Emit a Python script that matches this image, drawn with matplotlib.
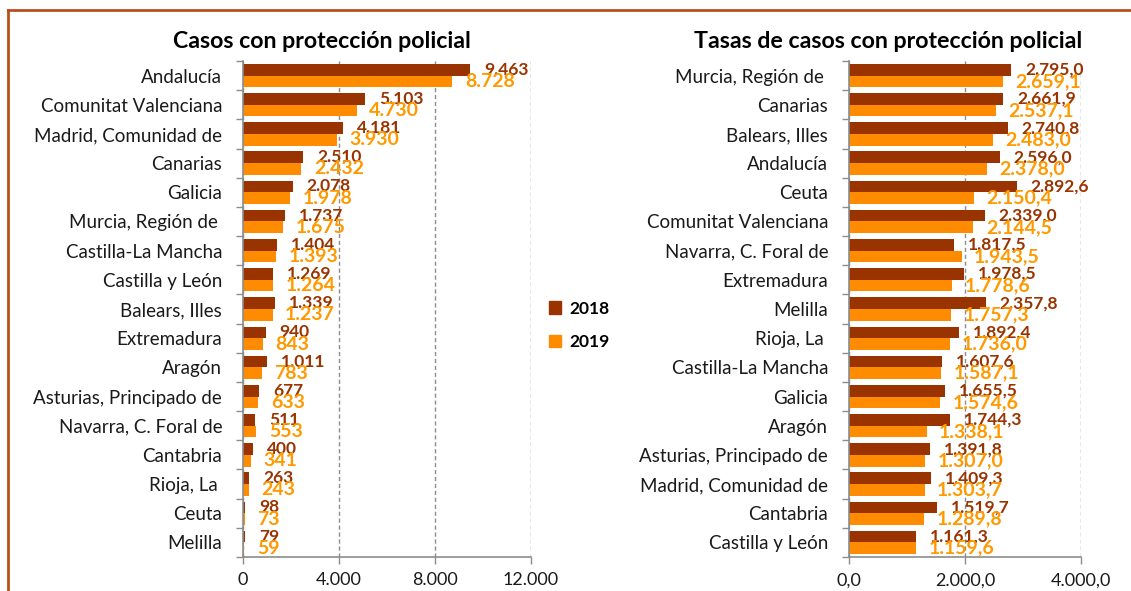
import numpy as np
import matplotlib
matplotlib.use("Agg")
import matplotlib.pyplot as plt
from matplotlib.patches import Patch
from matplotlib.lines import Line2D

plt.rcParams['font.family'] = ['Lato', 'DejaVu Sans']

# --- data: casos con proteccion policial ---
casos_regiones = ["Andalucía", "Comunitat Valenciana", "Madrid, Comunidad de",
                  "Canarias", "Galicia", "Murcia, Región de ", "Castilla-La Mancha",
                  "Castilla y León", "Balears, Illes", "Extremadura", "Aragón",
                  "Asturias, Principado de", "Navarra, C. Foral de", "Cantabria",
                  "Rioja, La ", "Ceuta", "Melilla"]
casos_2018 = [9463, 5103, 4181, 2510, 2078, 1737, 1404, 1269, 1339, 940,
              1011, 677, 511, 400, 263, 98, 79]
casos_2019 = [8728, 4730, 3930, 2432, 1978, 1675, 1393, 1264, 1237, 843,
              783, 633, 553, 341, 243, 73, 59]
casos_ticks = [0, 4000, 8000, 12000]

# --- data: tasas de casos con proteccion policial ---
tasas_regiones = ["Murcia, Región de ", "Canarias", "Balears, Illes", "Andalucía",
                  "Ceuta", "Comunitat Valenciana", "Navarra, C. Foral de",
                  "Extremadura", "Melilla", "Rioja, La ", "Castilla-La Mancha",
                  "Galicia", "Aragón", "Asturias, Principado de",
                  "Madrid, Comunidad de", "Cantabria", "Castilla y León"]
tasas_2018 = [2795.0, 2661.9, 2740.8, 2596.0, 2892.6, 2339.0, 1817.5, 1978.5,
              2357.8, 1892.4, 1607.6, 1655.5, 1744.3, 1391.8, 1409.3, 1519.7, 1161.3]
tasas_2019 = [2659.1, 2537.1, 2483.0, 2378.0, 2150.4, 2144.5, 1943.5, 1778.6,
              1757.3, 1736.0, 1587.1, 1574.6, 1338.1, 1307.0, 1303.7, 1289.8, 1159.6]
tasas_ticks = [0, 2000, 4000]

years = ["2018", "2019"]
c18 = "#993300"
c19 = "#FF8C00"
txt19 = "#FF9900"
grey = "#8c8c8c"


def es_fmt(v, dec=0):
    s = f"{v:,.{dec}f}"
    return s.replace(",", "X").replace(".", ",").replace("X", ".")


def draw(ax, regiones, v18, v19, ticks, dec):
    n = len(regiones)
    y = np.arange(n)
    b18 = ax.barh(y - 0.2, v18, height=0.4, color=c18)
    b19 = ax.barh(y + 0.2, v19, height=0.4, color=c19)
    ax.bar_label(b18, labels=[es_fmt(v, dec) for v in v18], padding=10,
                 color=c18, fontweight="bold", fontsize=12.5)
    ax.bar_label(b19, labels=[es_fmt(v, dec) for v in v19], padding=9,
                 color=txt19, fontweight="bold", fontsize=14)
    ax.set_ylim(n - 0.5, -0.5)
    ax.set_xlim(ticks[0], ticks[-1])
    # boundary ticks and centred category labels
    ax.set_yticks(np.arange(-0.5, n, 1.0))
    ax.set_yticklabels([])
    ax.set_yticks(y, minor=True)
    ax.set_yticklabels(regiones, minor=True, fontsize=13.5, color="#1a1a1a")
    ax.tick_params(axis="y", which="major", length=5, color=grey, width=1)
    ax.tick_params(axis="y", which="minor", length=0, pad=15)
    ax.set_xticks(ticks)
    ax.set_xticklabels([es_fmt(t, dec) for t in ticks], fontsize=13, color="#1a1a1a")
    ax.tick_params(axis="x", length=5, color=grey, width=1, pad=6)
    ax.xaxis.grid(True, linestyle=(0, (3, 2)), color=grey, linewidth=1)
    ax.set_axisbelow(True)
    for s in ["top", "right"]:
        ax.spines[s].set_visible(False)
    for s in ["left", "bottom"]:
        ax.spines[s].set_color(grey)
        ax.spines[s].set_linewidth(1.2)


W, H = 1131, 591
fig = plt.figure(figsize=(W / 100, H / 100), dpi=100)

ax1 = fig.add_axes([243 / W, 1 - 557 / H, 288 / W, 496 / H])
draw(ax1, casos_regiones, casos_2018, casos_2019, casos_ticks, 0)

ax2 = fig.add_axes([849 / W, 1 - 557 / H, 232 / W, 496 / H])
draw(ax2, tasas_regiones, tasas_2018, tasas_2019, tasas_ticks, 1)

fig.text(322 / W, 1 - 42 / H, "Casos con protección policial", ha="center",
         va="center", fontsize=16.7, fontweight="bold")
fig.text(888 / W, 1 - 42 / H, "Tasas de casos con protección policial", ha="center",
         va="center", fontsize=16.7, fontweight="bold")

# legend between the two charts
handles = [Patch(color=c18), Patch(color=c19)]
fig.legend(handles, years, loc="upper left", bbox_to_anchor=(533 / W, 1 - 285 / H),
           frameon=False, handlelength=0.7, handleheight=0.7, handletextpad=0.5,
           labelspacing=1.0, prop={"weight": "bold", "size": 12.5})

# outer frame (top and left edges)
fx = 8 / W
fy = 1 - 9.5 / H
fig.add_artist(Line2D([fx, 1], [fy, fy], transform=fig.transFigure,
                      color="#B5501E", linewidth=2))
fig.add_artist(Line2D([fx, fx], [0, fy], transform=fig.transFigure,
                      color="#B5501E", linewidth=2))

fig.savefig("out.png", dpi=100)
